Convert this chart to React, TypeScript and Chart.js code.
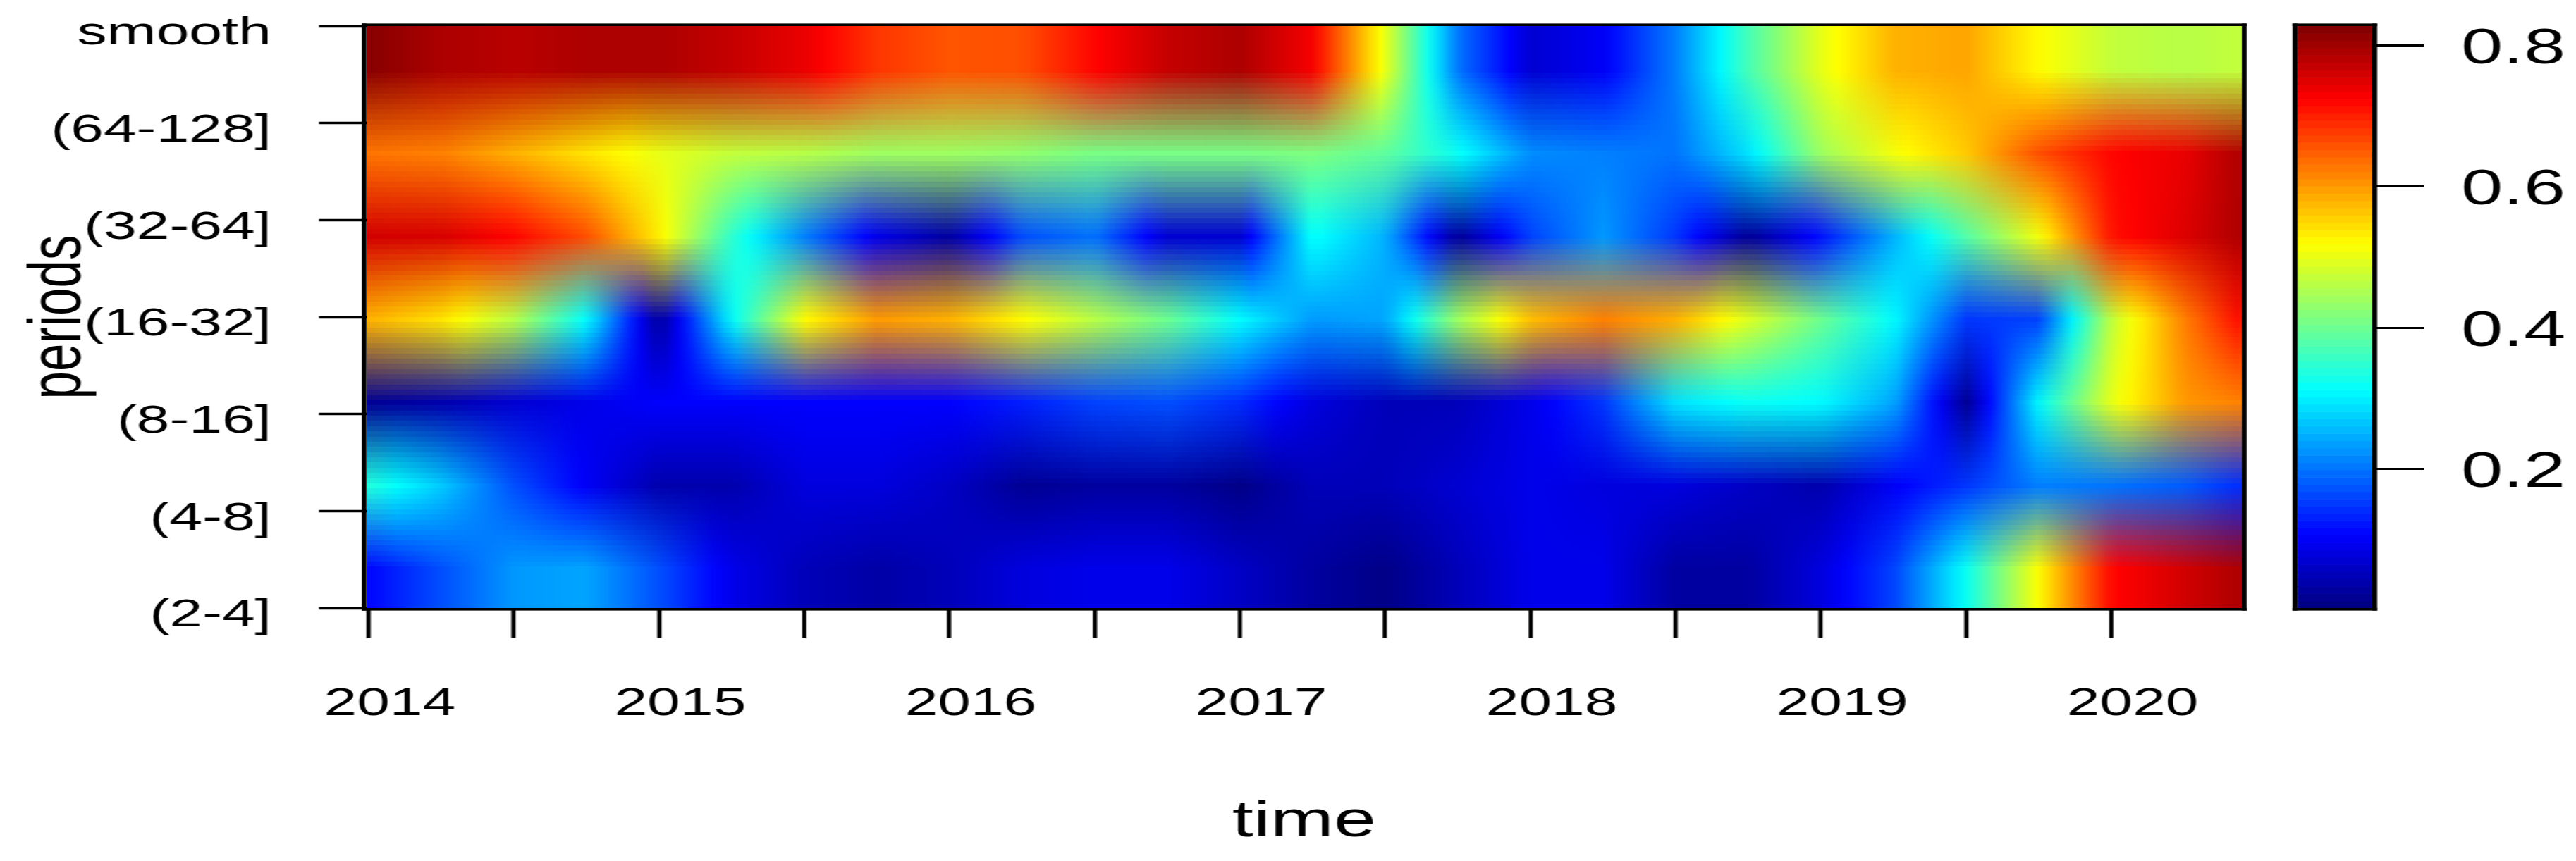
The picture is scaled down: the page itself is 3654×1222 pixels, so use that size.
import React, { useEffect, useRef } from "react";
import { Chart, registerables } from "chart.js";

Chart.register(...registerables);

// ---------- data ----------
const periodLabels = ["(2-4]", "(4-8]", "(8-16]", "(16-32]", "(32-64]", "(64-128]", "smooth"];
const yearLabels = ["2014", "2015", "2016", "2017", "2018", "2019", "2020"];
const colorbarTicks = [0.2, 0.4, 0.6, 0.8];
const times = [
  2014, 2014.25, 2014.5, 2014.75, 2015, 2015.25, 2015.5, 2015.75, 2016, 2016.25, 2016.5, 2016.75, 2017,
  2017.25, 2017.5, 2017.75, 2018, 2018.25, 2018.5, 2018.75, 2019, 2019.25, 2019.5, 2019.75, 2020, 2020.25, 2020.45,
];
const row2to4 = [0.11, 0.17, 0.23, 0.24, 0.17, 0.09, 0.05, 0.035, 0.05, 0.08, 0.09, 0.09, 0.06, 0.03, 0.01, 0.05, 0.09, 0.09, 0.03, 0.03, 0.08, 0.16, 0.32, 0.52, 0.72, 0.76, 0.79];
const row4to8 = [0.34, 0.27, 0.17, 0.1, 0.04, 0.04, 0.08, 0.08, 0.06, 0.02, 0.03, 0.03, 0.01, 0.05, 0.05, 0.07, 0.09, 0.08, 0.08, 0.06, 0.04, 0.1, 0.15, 0.21, 0.2, 0.18, 0.14];
const row8to16 = [0.02, 0.04, 0.07, 0.09, 0.105, 0.105, 0.105, 0.105, 0.105, 0.13, 0.16, 0.17, 0.14, 0.08, 0.05, 0.05, 0.09, 0.15, 0.29, 0.32, 0.31, 0.24, 0.02, 0.31, 0.5, 0.6, 0.62];
const row16to32 = [0.58, 0.54, 0.46, 0.31, 0.02, 0.31, 0.52, 0.6, 0.58, 0.52, 0.46, 0.4, 0.31, 0.23, 0.24, 0.44, 0.57, 0.62, 0.58, 0.49, 0.4, 0.31, 0.15, 0.16, 0.47, 0.62, 0.72];
const row32to64 = [0.76, 0.755, 0.72, 0.66, 0.53, 0.35, 0.21, 0.09, 0.03, 0.17, 0.2, 0.07, 0.07, 0.32, 0.25, 0.02, 0.16, 0.23, 0.15, 0.02, 0.12, 0.25, 0.38, 0.51, 0.71, 0.75, 0.79];
const row64to128 = [0.63, 0.62, 0.58, 0.54, 0.5, 0.47, 0.46, 0.44, 0.44, 0.43, 0.41, 0.41, 0.41, 0.415, 0.39, 0.32, 0.22, 0.21, 0.2, 0.29, 0.44, 0.51, 0.56, 0.66, 0.72, 0.74, 0.79];
const rowSmooth = [0.82, 0.79, 0.78, 0.79, 0.79, 0.77, 0.74, 0.68, 0.655, 0.66, 0.72, 0.77, 0.79, 0.73, 0.5, 0.2, 0.07, 0.1, 0.21, 0.37, 0.5, 0.58, 0.59, 0.52, 0.47, 0.46, 0.47];
const rows = [row2to4, row4to8, row8to16, row16to32, row32to64, row64to128, rowSmooth];
const valueMin = 0.003;
const valueMax = 0.827;
const palette = ["#00007F", "#0000FF", "#007FFF", "#00FFFF", "#7FFF7F", "#FFFF00", "#FF7F00", "#FF0000", "#7F0000"];

// ---------- helpers ----------
const STRETCH = 1.5;
const FONT = "'Liberation Sans', Arial, sans-serif";
const paletteRgb = palette.map((h) => [1, 3, 5].map((i) => parseInt(h.slice(i, i + 2), 16)));

function colorOf(v: number): number[] {
  const t = Math.max(0, Math.min(1, (v - valueMin) / (valueMax - valueMin))) * (paletteRgb.length - 1);
  const i = Math.min(paletteRgb.length - 2, Math.floor(t));
  const f = t - i;
  return paletteRgb[i].map((c, k) => Math.round(c + (paletteRgb[i + 1][k] - c) * f));
}

function valueAt(series: { x: number; y: number }[], x: number): number {
  for (let i = 0; i < series.length - 1; i++) {
    if (x <= series[i + 1].x) {
      const f = Math.max(0, (x - series[i].x) / (series[i + 1].x - series[i].x));
      return series[i].y + (series[i + 1].y - series[i].y) * f;
    }
  }
  return series[series.length - 1].y;
}

function zeroPadding(s: any) {
  s.paddingTop = 0;
  s.paddingBottom = 0;
  s.paddingLeft = 0;
  s.paddingRight = 0;
}

// Shades the plot area from the datasets: colours run along time, rows blend bilinearly.
const heatPlugin = {
  id: "heat",
  beforeDatasetsDraw(chart: any) {
    const { ctx, scales, data } = chart;
    const xs = scales.x;
    const ys = scales.y;
    const cols = 160;
    const n = data.datasets.length;
    const off = document.createElement("canvas");
    off.width = cols;
    off.height = n;
    const octx = off.getContext("2d")!;
    const img = octx.createImageData(cols, n);
    data.datasets.forEach((ds: any, r: number) => {
      const series = ds.data.map((p: any) => ({ x: p.x, y: p.v }));
      for (let c = 0; c < cols; c++) {
        const t = xs.min + ((c + 0.5) / cols) * (xs.max - xs.min);
        const rgb = colorOf(valueAt(series, t));
        const o = ((n - 1 - r) * cols + c) * 4;
        img.data[o] = rgb[0];
        img.data[o + 1] = rgb[1];
        img.data[o + 2] = rgb[2];
        img.data[o + 3] = 255;
      }
    });
    octx.putImageData(img, 0, 0);
    const left = xs.getPixelForValue(xs.min);
    const right = xs.getPixelForValue(xs.max);
    const top = ys.getPixelForValue(ys.max);
    const bottom = ys.getPixelForValue(ys.min);
    ctx.save();
    ctx.imageSmoothingEnabled = true;
    ctx.imageSmoothingQuality = "low";
    ctx.drawImage(off, left, top, right - left, bottom - top);
    ctx.restore();
  },
};

const colorbarPlugin = {
  id: "colorbar",
  beforeDatasetsDraw(chart: any) {
    const { ctx, scales, chartArea } = chart;
    const ys = scales.y;
    const steps = 80;
    for (let i = 0; i < steps; i++) {
      const a = valueMin + ((valueMax - valueMin) * i) / steps;
      const b = valueMin + ((valueMax - valueMin) * (i + 1)) / steps;
      const rgb = colorOf((a + b) / 2);
      ctx.fillStyle = `rgb(${rgb[0]},${rgb[1]},${rgb[2]})`;
      const yTop = ys.getPixelForValue(b);
      const yBot = ys.getPixelForValue(a);
      ctx.fillRect(chartArea.left, yTop, chartArea.right - chartArea.left, yBot - yTop + 0.6);
    }
  },
};

const framePlugin = {
  id: "frame",
  afterDraw(chart: any) {
    const { ctx, chartArea: a } = chart;
    const vw = 7 / STRETCH;
    const hw = 3.6;
    ctx.save();
    ctx.fillStyle = "#000";
    ctx.fillRect(a.left - vw, a.top - hw, a.right - a.left + 2 * vw, hw);
    ctx.fillRect(a.left - vw, a.bottom, a.right - a.left + 2 * vw, hw);
    ctx.fillRect(a.left - vw, a.top - hw, vw, a.bottom - a.top + 2 * hw);
    ctx.fillRect(a.right, a.top - hw, vw, a.bottom - a.top + 2 * hw);
    ctx.restore();
  },
};

export default function App() {
  const mainRef = useRef<HTMLCanvasElement>(null);
  const barRef = useRef<HTMLCanvasElement>(null);

  useEffect(() => {
    const rowCount = rows.length;
    const main = new Chart(mainRef.current!, {
      type: "scatter",
      data: {
        datasets: rows.map((vals, r) => ({
          label: periodLabels[r],
          data: times.map((t, i) => ({ x: t, y: ((r + 0.5) * (rowCount - 1)) / rowCount, v: vals[i] })),
          pointRadius: 0,
          showLine: false,
        })),
      },
      plugins: [heatPlugin, framePlugin],
      options: {
        responsive: false,
        animation: false,
        events: [],
        layout: { padding: { left: 0, right: 14, top: 37, bottom: 0 } },
        plugins: { legend: { display: false }, tooltip: { enabled: false } },
        scales: {
          x: {
            type: "linear",
            min: 2013.993,
            max: 2020.449,
            afterFit: (s: any) => { s.height = 1222 - 863; zeroPadding(s); },
            afterBuildTicks: (s: any) => {
              const t = [];
              for (let i = 0; i <= 12; i++) t.push({ value: 2014 + i * 0.5 });
              s.ticks = t;
            },
            grid: { drawOnChartArea: false, drawTicks: true, tickLength: 43, tickWidth: 4, tickColor: "#000" },
            border: { display: false },
            ticks: {
              autoSkip: false,
              maxRotation: 0,
              minRotation: 0,
              color: "#000",
              padding: 60,
              labelOffset: 20,
              font: { family: FONT, size: 56 },
              callback: (v: any) => {
                const k = yearLabels.indexOf(String(v));
                return k >= 0 ? yearLabels[k] : "";
              },
            },
            title: {
              display: true,
              text: "time",
              color: "#000",
              font: { family: FONT, size: 72 },
              padding: { top: 0, bottom: 12 },
            },
          },
          y: {
            type: "linear",
            min: 0,
            max: rowCount - 1,
            afterFit: (s: any) => { s.width = 520 / STRETCH; zeroPadding(s); },
            afterBuildTicks: (s: any) => { s.ticks = periodLabels.map((_, i) => ({ value: i })); },
            grid: { drawOnChartArea: false, drawTicks: true, tickLength: 45, tickWidth: 3.6, tickColor: "#000" },
            border: { display: false },
            ticks: {
              autoSkip: false,
              color: "#000",
              padding: 45,
              labelOffset: 11,
              font: { family: FONT, size: 56 },
              callback: (_: any, i: number) => periodLabels[i],
            },
            title: {
              display: true,
              text: "periods",
              color: "#000",
              font: { family: FONT, size: 71 },
              padding: { top: 14, bottom: 0 },
            },
          },
        },
      },
    } as any);

    const bar = new Chart(barRef.current!, {
      type: "scatter",
      data: { datasets: [{ data: colorbarTicks.map((v) => ({ x: 0, y: v })), pointRadius: 0, showLine: false }] },
      plugins: [colorbarPlugin, framePlugin],
      options: {
        responsive: false,
        animation: false,
        events: [],
        layout: { padding: { left: 39.33, right: 0, top: 37, bottom: 1222 - 863 } },
        plugins: { legend: { display: false }, tooltip: { enabled: false } },
        scales: {
          x: { type: "linear", min: 0, max: 1, display: false },
          y: {
            type: "linear",
            position: "right",
            min: valueMin,
            max: valueMax,
            afterFit: (s: any) => { s.width = 302 - 110; zeroPadding(s); },
            afterBuildTicks: (s: any) => { s.ticks = colorbarTicks.map((v) => ({ value: v })); },
            grid: { drawOnChartArea: false, drawTicks: true, tickLength: 49, tickWidth: 3, tickColor: "#000" },
            border: { display: false },
            ticks: {
              autoSkip: false,
              color: "#000",
              padding: 35,
              labelOffset: 6,
              font: { family: FONT, size: 71 },
              callback: (v: any) => Number(v).toFixed(1),
            },
          },
        },
      },
    } as any);

    return () => {
      main.destroy();
      bar.destroy();
    };
  }, []);

  const wrap = (left: number): React.CSSProperties => ({
    position: "absolute",
    left,
    top: 0,
    transform: `scale(${STRETCH}, 1)`,
    transformOrigin: "0 0",
    lineHeight: 0,
  });

  return (
    <>
      <div style={wrap(0)}>
        <canvas ref={mainRef} width={2134} height={1222} />
      </div>
      <div style={wrap(3200)}>
        <canvas ref={barRef} width={302} height={1222} />
      </div>
    </>
  );
}
